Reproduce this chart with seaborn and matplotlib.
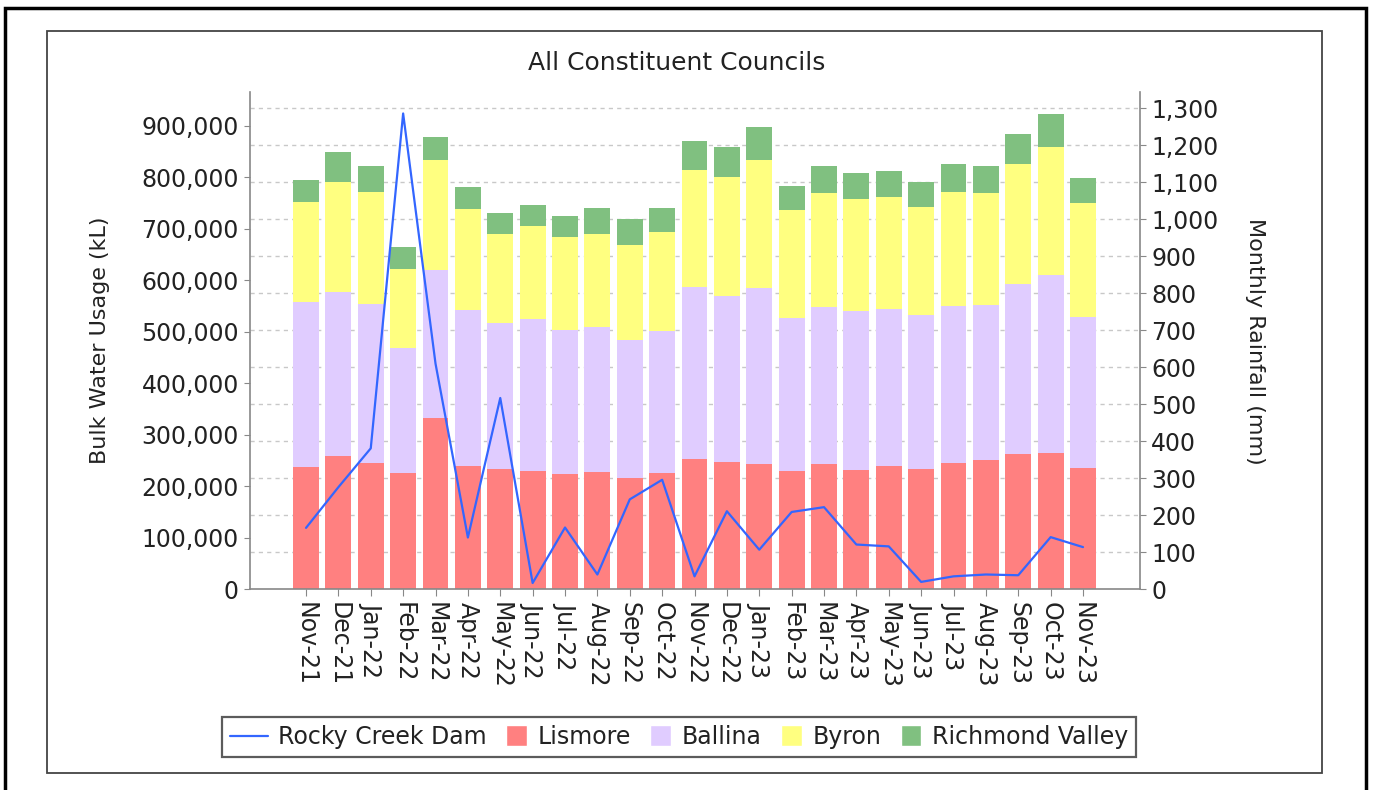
import numpy as np
import pandas as pd
import seaborn as sns
import matplotlib.pyplot as plt
from matplotlib.patches import Rectangle, Patch
from matplotlib.lines import Line2D
from matplotlib.ticker import FuncFormatter, MultipleLocator
from matplotlib.legend_handler import HandlerPatch

months = ['Nov-21', 'Dec-21', 'Jan-22', 'Feb-22', 'Mar-22', 'Apr-22', 'May-22',
          'Jun-22', 'Jul-22', 'Aug-22', 'Sep-22', 'Oct-22', 'Nov-22', 'Dec-22',
          'Jan-23', 'Feb-23', 'Mar-23', 'Apr-23', 'May-23', 'Jun-23', 'Jul-23',
          'Aug-23', 'Sep-23', 'Oct-23', 'Nov-23']

# bulk water usage (kL) per council
lismore = [238000, 258000, 245000, 225000, 332000, 240000, 234000, 229000, 223000,
           228000, 216000, 225000, 253000, 248000, 243000, 230000, 243000, 232000,
           239000, 234000, 245000, 252000, 262000, 265000, 235000]
ballina = [321000, 320000, 310000, 244000, 289000, 303000, 284000, 297000, 281000,
           281000, 268000, 277000, 334000, 322000, 343000, 297000, 305000, 308000,
           305000, 298000, 305000, 301000, 332000, 346000, 294000]
byron = [193000, 213000, 216000, 153000, 213000, 195000, 172000, 179000, 180000,
         182000, 185000, 193000, 228000, 231000, 248000, 210000, 222000, 219000,
         218000, 210000, 221000, 216000, 232000, 248000, 222000]
richmond = [44000, 58000, 51000, 42000, 44000, 43000, 41000, 41000, 41000,
            50000, 51000, 45000, 56000, 58000, 64000, 46000, 53000, 49000,
            50000, 49000, 55000, 54000, 59000, 64000, 47000]

# Rocky Creek Dam monthly rainfall (mm)
rainfall = [166, 276, 381, 1286, 610, 140, 517, 17, 167, 40, 243, 296, 35,
            211, 107, 209, 222, 121, 116, 20, 35, 40, 38, 141, 114]

c_red = '#ff8080'
c_purple = '#e0ccff'
c_yellow = '#ffff80'
c_green = '#80c080'
c_blue = '#3366ff'

df = pd.DataFrame({'Month': months, 'Lismore': lismore, 'Ballina': ballina,
                   'Byron': byron, 'Richmond Valley': richmond, 'Rain': rainfall})
df['c_lis'] = df['Lismore']
df['c_bal'] = df['c_lis'] + df['Ballina']
df['c_byr'] = df['c_bal'] + df['Byron']
df['c_ric'] = df['c_byr'] + df['Richmond Valley']

sns.set_style('white')
plt.rcParams['font.family'] = ['DejaVu Sans']

fig = plt.figure(figsize=(13.75, 7.9), dpi=100)
ax = fig.add_axes([250 / 1375, (790 - 589.3) / 790, 890 / 1375, (589.3 - 92) / 790])

# stacked bars: draw cumulative totals from the top down
layers = [('c_ric', c_green), ('c_byr', c_yellow), ('c_bal', c_purple), ('c_lis', c_red)]
for col, colr in layers:
    sns.barplot(data=df, x='Month', y=col, color=colr, saturation=1, width=0.8,
                errorbar=None, linewidth=0, ax=ax)

ax2 = ax.twinx()
sns.lineplot(data=df, x='Month', y='Rain', color=c_blue, linewidth=1.6,
             sort=False, ax=ax2)

left_top = 966000
right_top = 1344
ax.set_ylim(0, left_top)
ax2.set_ylim(0, right_top)
ax.set_xlim(-1.73, 25.76)

# dotted grid follows the rainfall axis, behind the bars
for t in np.arange(100, 1301, 100):
    ax.axhline(t * left_top / right_top, color='#c8c8c8', lw=1,
               ls=(0, (3, 3)), zorder=0)

ax.yaxis.set_major_locator(MultipleLocator(100000))
ax2.yaxis.set_major_locator(MultipleLocator(100))
fmt = FuncFormatter(lambda v, p: f'{v:,.0f}')
ax.yaxis.set_major_formatter(fmt)
ax2.yaxis.set_major_formatter(fmt)

ax.set_xticks(range(len(months)))
ax.set_xticklabels(months, rotation=-90, ha='center', va='top')

for a in (ax, ax2):
    a.set_xlabel('')
    a.set_ylabel('')
    a.grid(False)
    for s in a.spines.values():
        s.set_color('#888888')
        s.set_linewidth(1.2)
    a.spines['top'].set_visible(False)
ax.spines['right'].set_visible(False)
ax2.spines['left'].set_visible(False)
ax2.spines['bottom'].set_visible(False)

ax.tick_params(axis='y', length=4, color='#888888', labelsize=17, labelcolor='#222222', pad=4, left=True)
ax.tick_params(axis='x', length=5, color='#888888', labelsize=17, labelcolor='#222222', pad=4, bottom=True)
ax2.tick_params(axis='y', length=4, color='#888888', labelsize=17, labelcolor='#222222', pad=4, right=True)

fig.text(677 / 1375, 1 - 63 / 790, 'All Constituent Councils', ha='center', va='center',
         fontsize=18, color='#222222')
fig.text(100 / 1375, 1 - 340 / 790, 'Bulk Water Usage (kL)', rotation=90,
         ha='center', va='center', fontsize=16, color='#222222')
fig.text(1255 / 1375, 1 - 341 / 790, 'Monthly Rainfall (mm)', rotation=270,
         ha='center', va='center', fontsize=16, color='#222222')


def square_patch(legend, orig_handle, xdescent, ydescent, width, height, fontsize):
    size = height * 1.25
    return Rectangle((-xdescent + width - size, -ydescent + (height - size) / 2), size, size)


handles = [Line2D([], [], color=c_blue, lw=1.6),
           Patch(facecolor=c_red), Patch(facecolor=c_purple),
           Patch(facecolor=c_yellow), Patch(facecolor=c_green)]
labels = ['Rocky Creek Dam', 'Lismore', 'Ballina', 'Byron', 'Richmond Valley']
leg = fig.legend(handles, labels, loc='center', bbox_to_anchor=(679 / 1375, 1 - 737 / 790),
                 ncol=5, frameon=True, fancybox=False, fontsize=17, handlelength=1.6,
                 handletextpad=0.45, columnspacing=0.1, borderpad=0.35,
                 handler_map={Patch: HandlerPatch(patch_func=square_patch)})
leg.get_frame().set_edgecolor('#333333')
leg.get_frame().set_linewidth(1.6)
for txt in leg.get_texts():
    txt.set_color('#222222')

# inner chart panel and outer page frame
fig.patches.append(Rectangle((47 / 1375, 1 - 773 / 790), (1322 - 47) / 1375, (773 - 31) / 790,
                             transform=fig.transFigure, fill=False, ec='#444444', lw=1.3))
fig.patches.append(Rectangle((5 / 1375, -0.05), (1366 - 5) / 1375, 1.05 - 8 / 790,
                             transform=fig.transFigure, fill=False, ec='black', lw=2.5))

plt.savefig('out.png', dpi=100)
plt.close()
